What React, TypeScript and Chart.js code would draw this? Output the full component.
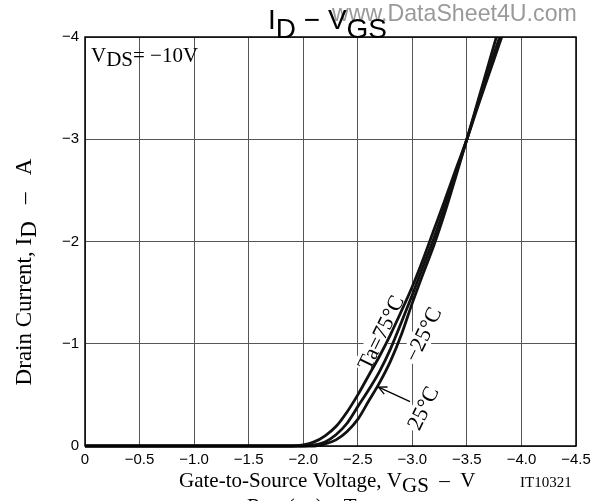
import { useEffect, useRef } from "react";
import { Chart, registerables } from "chart.js";

Chart.register(...registerables);

// Gate-to-source voltage (V) sample points
const VGS = [0, -1.9, -2.0, -2.1, -2.2, -2.3, -2.4, -2.5, -2.6, -2.7, -2.8, -2.9, -3.0, -3.1, -3.2, -3.3, -3.4, -3.5, -3.6, -3.7, -3.8, -3.9];
// Drain current (A) for each ambient temperature
const ID_TA_75 = [0, 0, -0.01, -0.04, -0.1, -0.19, -0.33, -0.5, -0.69, -0.88, -1.09, -1.32, -1.56, -1.83, -2.12, -2.41, -2.71, -3.0, -3.32, -3.63, -3.94, -4.25];
const ID_TA_25 = [0, 0, 0, -0.01, -0.04, -0.11, -0.22, -0.385, -0.55, -0.73, -0.95, -1.21, -1.48, -1.76, -2.04, -2.35, -2.67, -3.0, -3.35, -3.68, -4.0, -4.33];
const ID_TA_M25 = [0, 0, 0, 0, -0.02, -0.06, -0.14, -0.26, -0.44, -0.62, -0.83, -1.09, -1.4, -1.69, -1.97, -2.29, -2.64, -3.0, -3.37, -3.74, -4.11, -4.48];

const SERIES_LABELS = ["Ta=75°C", "25°C", "−25°C"];
const X_MIN = -4.5;
const X_MAX = 0;
const X_STEP = 0.5;
const Y_MIN = -4;
const Y_MAX = 0;
const Y_STEP = 1;

const SERIF = '"Liberation Serif", "DejaVu Serif", serif';
const SANS = '"Liberation Sans", Arial, sans-serif';

type Part = { t: string; dy?: number };

function drawParts(
  ctx: CanvasRenderingContext2D,
  parts: Part[],
  x: number,
  y: number,
  font: string,
  align: "left" | "center" | "right"
) {
  ctx.font = font;
  ctx.textAlign = "left";
  ctx.textBaseline = "alphabetic";
  const total = parts.reduce((s, p) => s + ctx.measureText(p.t).width, 0);
  let cx = align === "left" ? x : align === "center" ? x - total / 2 : x - total;
  for (const p of parts) {
    ctx.fillText(p.t, cx, y + (p.dy || 0));
    cx += ctx.measureText(p.t).width;
  }
}

function fmtNeg(v: number, digits: number) {
  if (v === 0) return "0";
  return "−" + Math.abs(v).toFixed(digits);
}

const decorPlugin = {
  id: "decor",
  beforeDatasetsDraw(chart: any) {
    const ctx: CanvasRenderingContext2D = chart.ctx;
    const xs = chart.scales.x;
    const ys = chart.scales.y;
    const labels = [
      { t: SERIES_LABELS[0], v: -2.713, i: -1.108 },
      { t: SERIES_LABELS[2], v: -3.1, i: -1.09 },
      { t: SERIES_LABELS[1], v: -3.1, i: -0.37 },
    ];
    ctx.save();
    for (const l of labels) {
      const px = xs.getPixelForValue(l.v);
      const py = ys.getPixelForValue(l.i);
      ctx.save();
      ctx.translate(px, py);
      ctx.rotate((-64 * Math.PI) / 180);
      ctx.font = `22px ${SERIF}`;
      const w = ctx.measureText(l.t).width;
      ctx.fillStyle = "#fff";
      ctx.fillRect(-w / 2 - 2, -11, w + 4, 22);
      ctx.fillStyle = "#000";
      ctx.textAlign = "center";
      ctx.textBaseline = "middle";
      ctx.fillText(l.t, 0, 1);
      ctx.restore();
    }
    ctx.restore();
  },
  afterDraw(chart: any) {
    const ctx: CanvasRenderingContext2D = chart.ctx;
    const ca = chart.chartArea;
    const xs = chart.scales.x;
    const ys = chart.scales.y;
    ctx.save();

    // plot frame
    ctx.strokeStyle = "#000";
    ctx.lineWidth = 1.5;
    ctx.strokeRect(ca.left, ca.top, ca.right - ca.left, ca.bottom - ca.top);

    // arrow to the 25°C curve
    const ax0 = xs.getPixelForValue(-2.979);
    const ay0 = ys.getPixelForValue(-0.434);
    const ax1 = xs.getPixelForValue(-2.69);
    const ay1 = ys.getPixelForValue(-0.575);
    ctx.strokeStyle = "#000";
    ctx.lineWidth = 1.3;
    ctx.beginPath();
    ctx.moveTo(ax0, ay0);
    ctx.lineTo(ax1, ay1);
    ctx.stroke();
    const ang = Math.atan2(ay1 - ay0, ax1 - ax0);
    ctx.beginPath();
    ctx.moveTo(ax1 - 9 * Math.cos(ang - 0.45), ay1 - 9 * Math.sin(ang - 0.45));
    ctx.lineTo(ax1, ay1);
    ctx.lineTo(ax1 - 9 * Math.cos(ang + 0.45), ay1 - 9 * Math.sin(ang + 0.45));
    ctx.stroke();

    // watermark
    ctx.fillStyle = "#9a9a9a";
    ctx.font = `21px ${SANS}`;
    const wm = "www.DataSheet4U.com";
    const wmW = ctx.measureText(wm).width;
    const wmSize = (21 * 245) / wmW;
    ctx.font = `${wmSize}px ${SANS}`;
    ctx.textAlign = "left";
    ctx.textBaseline = "alphabetic";
    ctx.fillText(wm, 332, 21);

    // title
    ctx.fillStyle = "#000";
    drawParts(
      ctx,
      [{ t: "I" }, { t: "D", dy: 9 }, { t: " − " }, { t: "V" }, { t: "GS", dy: 9 }],
      268,
      29,
      `28px ${SANS}`,
      "left"
    );

    // condition label
    drawParts(
      ctx,
      [{ t: "V" }, { t: "DS", dy: 4 }, { t: "= −10V" }],
      91,
      62,
      `21px ${SERIF}`,
      "left"
    );

    // x axis title
    drawParts(
      ctx,
      [{ t: "Gate-to-Source Voltage, V" }, { t: "GS", dy: 5 }, { t: "  –  V" }],
      179,
      487,
      `21px ${SERIF}`,
      "left"
    );
    ctx.font = `15px ${SERIF}`;
    ctx.textAlign = "left";
    ctx.fillText("IT10321", 520, 487);

    // cut-off text of the following chart
    drawParts(
      ctx,
      [{ t: "R" }, { t: "DS", dy: 5 }, { t: "(on) – Ta" }],
      247,
      513,
      `21px ${SERIF}`,
      "left"
    );

    // y axis title
    ctx.save();
    ctx.translate(31, 272);
    ctx.rotate(-Math.PI / 2);
    drawParts(
      ctx,
      [{ t: "Drain Current, I" }, { t: "D", dy: 5 }, { t: "   –   A" }],
      0,
      0,
      `23px ${SERIF}`,
      "center"
    );
    ctx.restore();

    ctx.restore();
  },
};

export default function App() {
  const ref = useRef<HTMLCanvasElement | null>(null);

  useEffect(() => {
    if (!ref.current) return;
    const mk = (ys: number[]) => VGS.map((x, i) => ({ x, y: ys[i] }));
    const lineStyle = {
      borderColor: "#111",
      borderWidth: 2.8,
      pointRadius: 0,
      fill: false,
      cubicInterpolationMode: "monotone" as const,
      clip: { left: 5, top: 0, right: 5, bottom: 3 },
    };
    const chart = new Chart(ref.current, {
      type: "line",
      data: {
        datasets: [
          { label: SERIES_LABELS[0], data: mk(ID_TA_75), ...lineStyle },
          { label: SERIES_LABELS[1], data: mk(ID_TA_25), ...lineStyle },
          { label: SERIES_LABELS[2], data: mk(ID_TA_M25), ...lineStyle },
        ],
      },
      options: {
        responsive: false,
        animation: false,
        events: [],
        layout: { padding: { left: 0, top: 37, right: 30, bottom: 0 } },
        plugins: { legend: { display: false }, tooltip: { enabled: false }, title: { display: false } },
        scales: {
          x: {
            type: "linear",
            reverse: true,
            min: X_MIN,
            max: X_MAX,
            ticks: {
              stepSize: X_STEP,
              color: "#000",
              padding: 5,
              maxRotation: 0,
              font: { family: SANS, size: 15 },
              callback: (v: any) => fmtNeg(Number(v), 1),
            },
            grid: { color: "#555", lineWidth: 1, drawTicks: false },
            border: { display: false },
            afterFit: (s: any) => {
              s.height = 55;
            },
          },
          y: {
            type: "linear",
            reverse: true,
            min: Y_MIN,
            max: Y_MAX,
            ticks: {
              stepSize: Y_STEP,
              color: "#000",
              padding: 6,
              font: { family: SANS, size: 15 },
              callback: (v: any) => fmtNeg(Number(v), 0),
            },
            grid: { color: "#555", lineWidth: 1, drawTicks: false },
            border: { display: false },
            afterFit: (s: any) => {
              s.width = 85;
            },
          },
        },
      },
      plugins: [decorPlugin],
    } as any);
    return () => chart.destroy();
  }, []);

  return (
    <div style={{ position: "absolute", left: 0, top: 0, width: 606, height: 501, background: "#fff" }}>
      <canvas ref={ref} width={606} height={501} style={{ display: "block", width: 606, height: 501 }} />
    </div>
  );
}
